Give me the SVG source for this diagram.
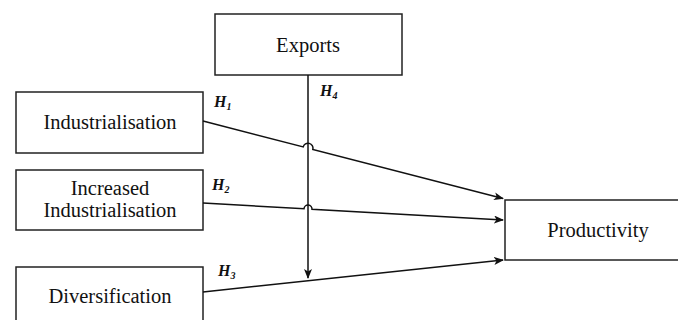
<svg xmlns="http://www.w3.org/2000/svg" width="678" height="320" viewBox="0 0 678 320">
<style>
.box{fill:#fff;stroke:#222;stroke-width:1.5}
text{font-family:'Liberation Serif','DejaVu Serif',serif}
.t{font-size:20.5px;fill:#111;text-anchor:middle}
.h{font-size:16px;font-weight:bold;font-style:italic;fill:#111}
.s{font-size:10px}
.ln{fill:none;stroke:#111;stroke-width:1.5}
</style>
<defs>
<marker id="ah" markerWidth="10" markerHeight="8" refX="9" refY="4" orient="auto" markerUnits="userSpaceOnUse">
<path d="M0,0 L10,4 L0,8 L2.5,4 Z" fill="#111"/>
</marker>
</defs>
<g id="exports"><rect class="box" x="215" y="14" width="187" height="61"/><text class="t" x="308" y="52">Exports</text></g>
<g id="industrialisation"><rect class="box" x="16" y="92" width="187" height="61"/><text class="t" x="110" y="129">Industrialisation</text></g>
<g id="increased"><rect class="box" x="16" y="170" width="187" height="60"/><text class="t" x="110" y="195">Increased</text><text class="t" x="110" y="217">Industrialisation</text></g>
<g id="diversification"><rect class="box" x="16" y="267" width="187" height="60"/><text class="t" x="110" y="303">Diversification</text></g>
<g id="productivity"><rect class="box" x="505" y="200" width="180" height="60"/><text class="t" x="598" y="237">Productivity</text></g>
<g id="connectors">
<path class="ln" d="M203,121 L303.2,146.9 A4,4 0 0 1 312.8,149.4 L503,198.5" marker-end="url(#ah)"/>
<path class="ln" d="M203,203 L304,208.7 A4,4 0 0 1 312,209.3 L503,220" marker-end="url(#ah)"/>
<path class="ln" d="M203,292 L503,260" marker-end="url(#ah)"/>
<path class="ln" d="M308,75 L308,278" marker-end="url(#ah)"/>
</g>
<g id="labels">
<text class="h" x="214" y="107">H<tspan class="s" dy="3">1</tspan></text>
<text class="h" x="212" y="190">H<tspan class="s" dy="3">2</tspan></text>
<text class="h" x="218" y="276">H<tspan class="s" dy="3">3</tspan></text>
<text class="h" x="320" y="96">H<tspan class="s" dy="3">4</tspan></text>
</g>
</svg>
